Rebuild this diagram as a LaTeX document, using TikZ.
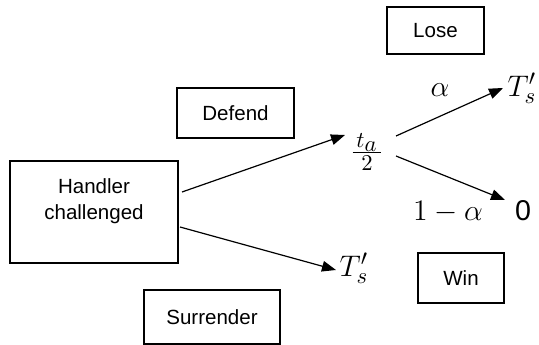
\documentclass[tikz,border=0pt]{standalone}
\usepackage[no-math]{fontspec}
\setmainfont{Liberation Sans}
\usetikzlibrary{arrows.meta}
\begin{document}
\begin{tikzpicture}[x=0.75pt,y=-0.75pt,line width=0.9pt,
  font=\fontsize{15.4}{19.5}\selectfont,
  box/.style={draw,inner sep=0pt,align=center},
  payoff/.style={scale=1.55,inner sep=0pt},
  arr/.style={-{Triangle[length=10.5pt,width=8pt]}}]
\useasboundingbox (0,0) rectangle (539,345);
%boxes
\node[box,minimum width=126pt,minimum height=76.5pt] (handler) at (94,212) {Handler\\challenged\\\mbox{}};
\node[box,minimum width=87.75pt,minimum height=37.5pt] (defend) at (235.5,113) {Defend};
\node[box,minimum width=102pt,minimum height=40.5pt] (surrender) at (212,317) {Surrender};
\node[box,minimum width=72.75pt,minimum height=35.25pt] (lose) at (435.5,30.5) {Lose};
\node[box,minimum width=64.5pt,minimum height=37.5pt] (win) at (461,278) {Win};
%payoffs
\node[payoff] (half) at (367,152) {$\textstyle\frac{\,t_{\scriptstyle a}\,}{2}$};
\node[payoff] (tslow) at (354,268) {$T_s'$};
\node[payoff] (tshigh) at (522,88) {$T_s'$};
\node[payoff,scale=0.9] (zero) at (523,211) {0};
\node[payoff] (alpha) at (440,90) {$\alpha$};
\node[payoff] (oneminus) at (448,212) {$1-\alpha$};
%branches
\draw[arr] ([shift={(88,-20)}]handler.center) -- ([shift={(-22,-17)}]half.center);
\draw[arr] ([shift={(86,15)}]handler.center) -- ([shift={(-18,2)}]tslow.center);
\draw[arr] ([shift={(29,-16)}]half.center) -- ([shift={(-19,0)}]tshigh.center);
\draw[arr] ([shift={(29,4)}]half.center) -- ([shift={(-18,-11)}]zero.center);
\end{tikzpicture}
\end{document}
